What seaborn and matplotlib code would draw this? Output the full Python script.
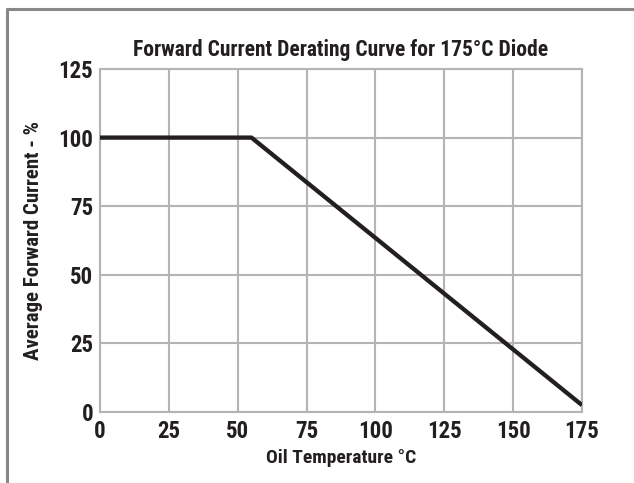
import matplotlib
matplotlib.use("Agg")
import matplotlib.pyplot as plt
import seaborn as sns
import pandas as pd
from matplotlib.lines import Line2D

# derating curve
oil_temp = [0, 55, 175]
fwd_current = [100, 100, 2.5]
x_ticks = [0, 25, 50, 75, 100, 125, 150, 175]
y_ticks = [0, 25, 50, 75, 100, 125]

df = pd.DataFrame({"temp": oil_temp, "current": fwd_current})

sns.set_theme(style="whitegrid")
plt.rcParams['font.family'] = ['Roboto Condensed', 'Liberation Sans Narrow',
                               'Archivo Narrow', 'DejaVu Sans']
plt.rcParams['font.weight'] = 'bold'

fig = plt.figure(figsize=(6.34, 4.83), dpi=100)
ax = fig.add_axes([100 / 634, 1 - 412 / 483, 482 / 634, 343 / 483])

sns.lineplot(data=df, x="temp", y="current", ax=ax, color="#231f20",
             linewidth=3.1, solid_capstyle="butt", zorder=3)

ax.set_xlim(0, 175)
ax.set_ylim(0, 125)
ax.set_xticks(x_ticks)
ax.set_yticks(y_ticks)
ax.grid(True, color="#b4b4b8", linewidth=1.5)
for s in ax.spines.values():
    s.set_color("#b4b4b8")
    s.set_linewidth(1.5)
ax.tick_params(axis="both", length=0, labelsize=16.5, colors="#231f20")
ax.tick_params(axis="x", pad=6)
ax.tick_params(axis="y", pad=5)
for lbl in ax.get_xticklabels() + ax.get_yticklabels():
    lbl.set_fontweight("bold")

ax.set_xlabel("Oil Temperature °C", fontsize=14, fontweight="bold",
              color="#231f20", labelpad=4)
ax.set_ylabel("Average Forward Current - %", fontsize=15, fontweight="bold",
              color="#231f20", labelpad=11)
ax.set_title("Forward Current Derating Curve for 175°C Diode", fontsize=15.5,
             fontweight="bold", color="#231f20", pad=9)

# frame around the figure (left and top only)
fig.add_artist(Line2D([7 / 634, 7 / 634], [0, 1 - 9 / 483], color="#888888",
                      linewidth=2.2, transform=fig.transFigure))
fig.add_artist(Line2D([7 / 634, 1], [1 - 9 / 483, 1 - 9 / 483], color="#888888",
                      linewidth=2.2, transform=fig.transFigure))

fig.savefig("out.png", dpi=100)
plt.close(fig)
